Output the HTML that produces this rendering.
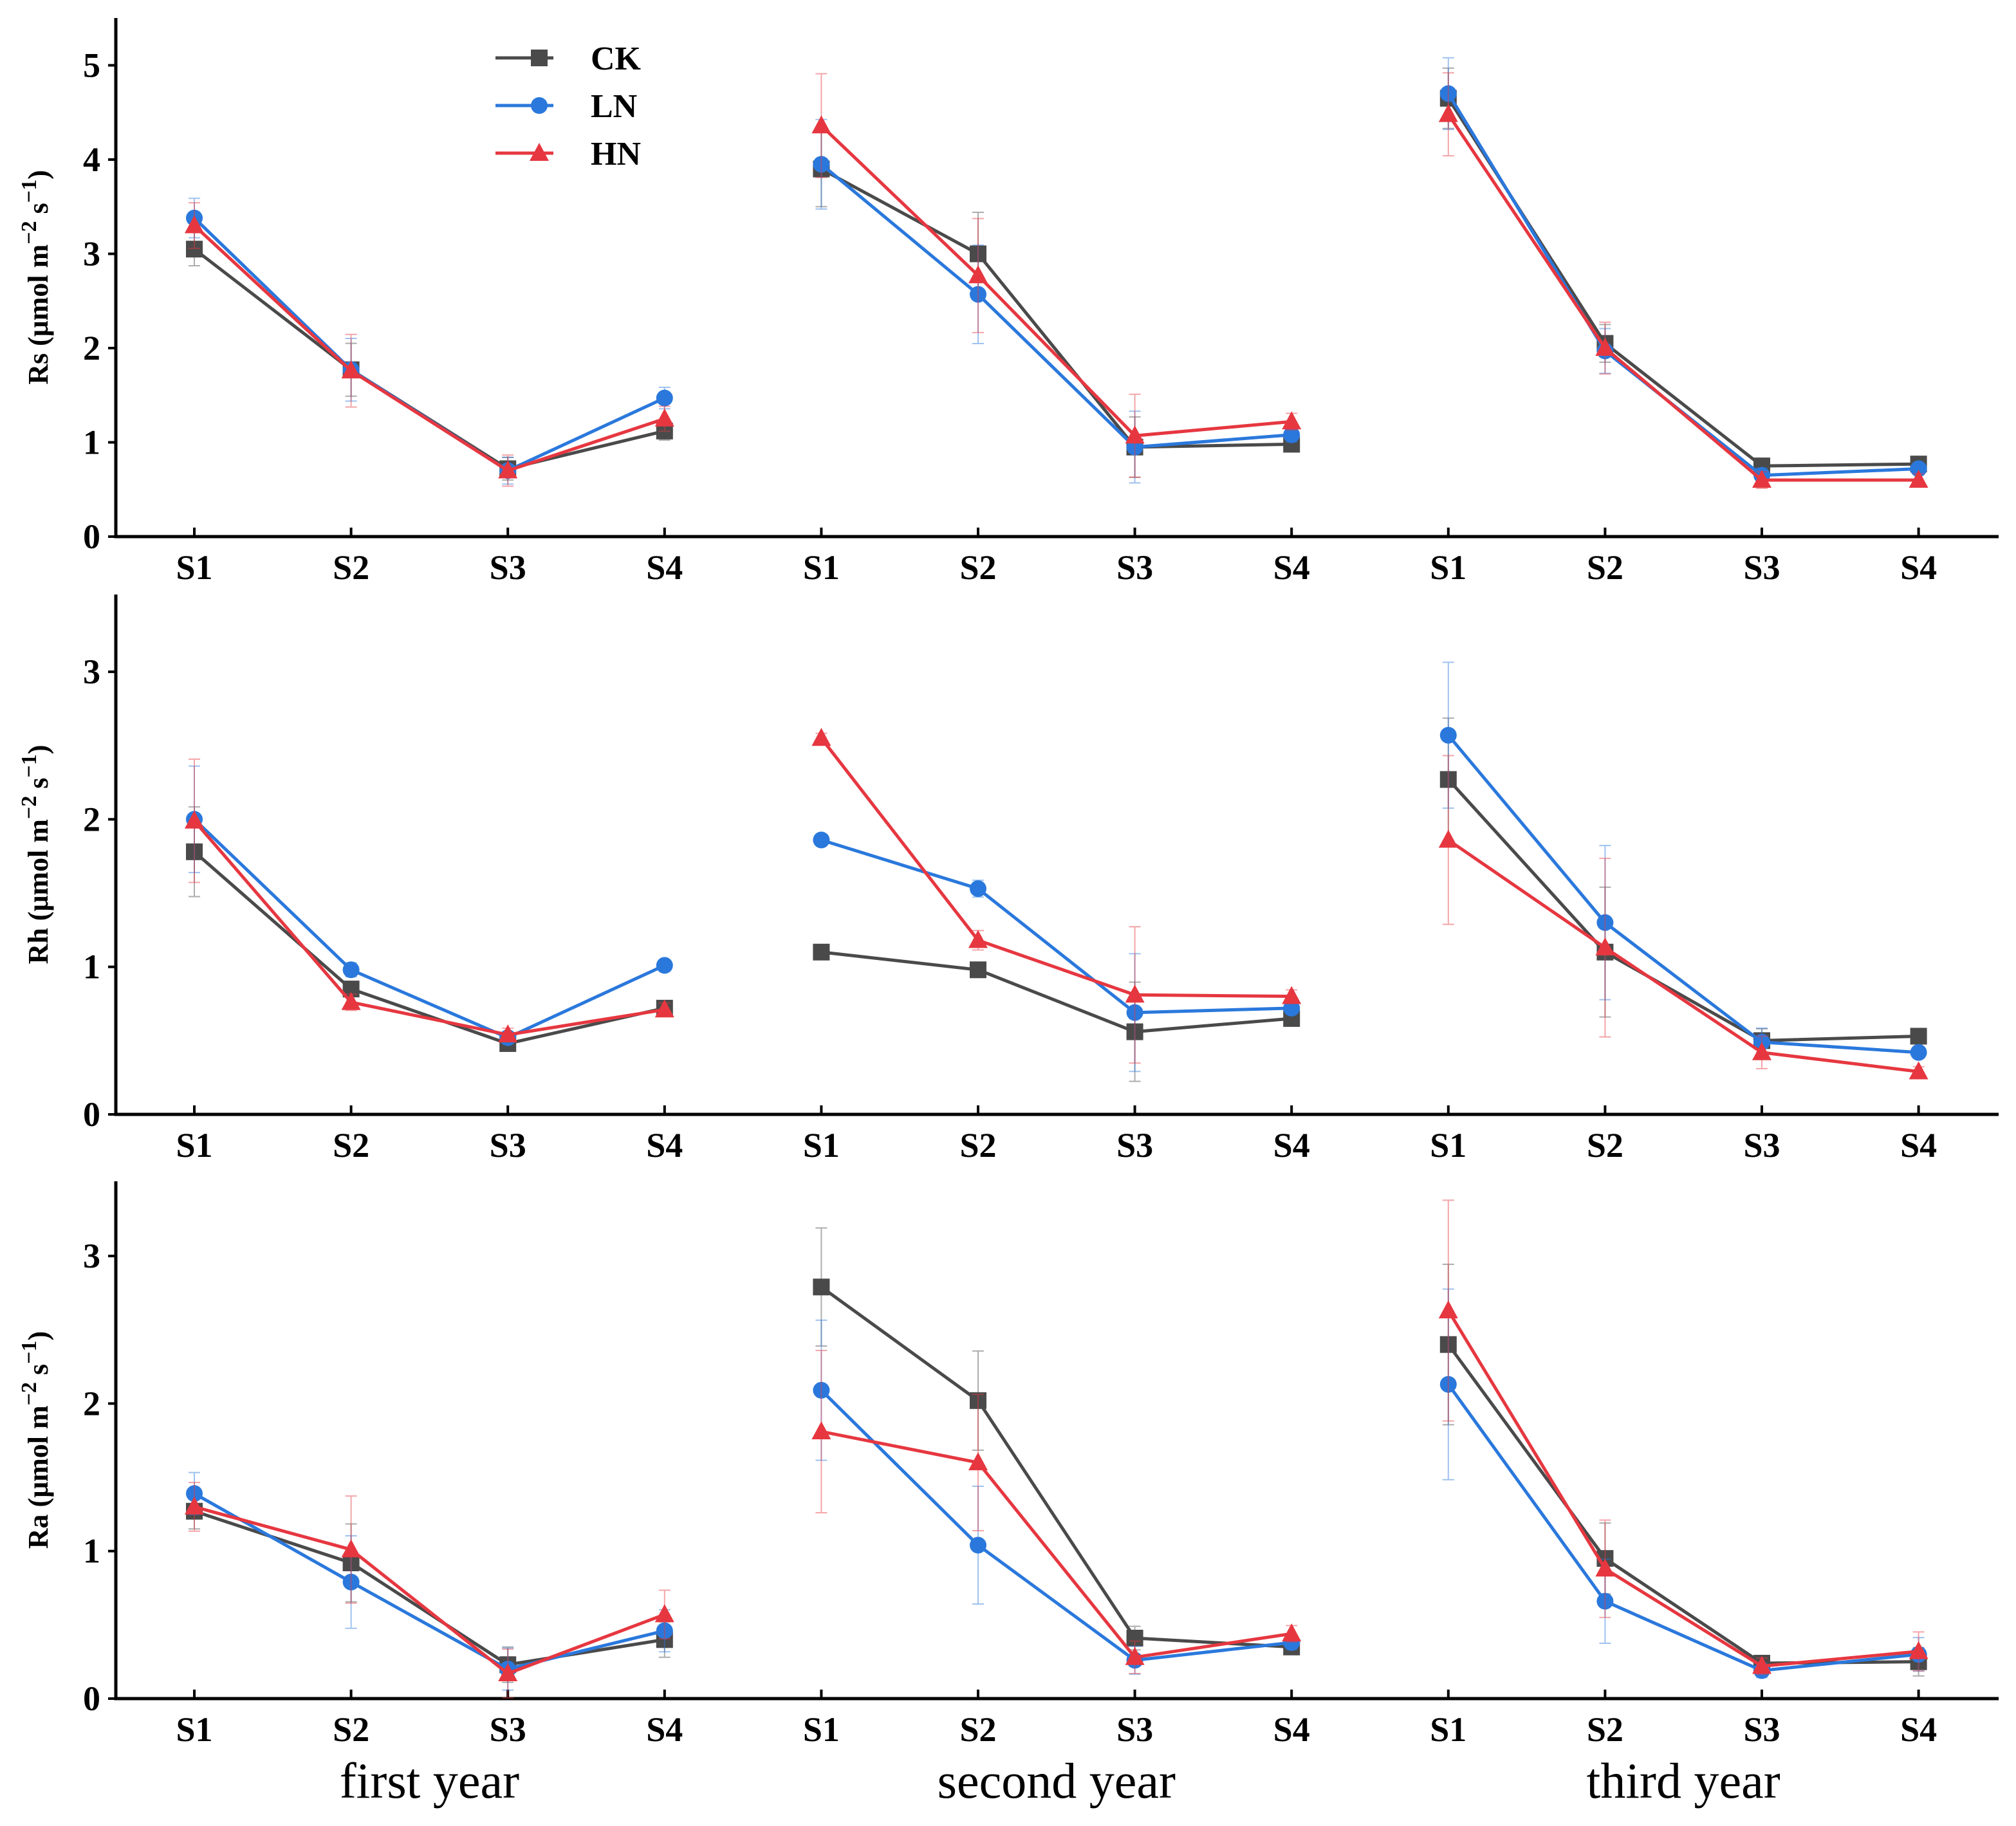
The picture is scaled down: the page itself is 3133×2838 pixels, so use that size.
<!DOCTYPE html>
<html><head><meta charset="utf-8"><style>
html,body{margin:0;padding:0;background:#fff;}
svg{display:block;font-family:"Liberation Serif",serif;}
</style></head><body>
<svg id="chart" width="3133" height="2838" viewBox="0 0 3133 2838" xmlns="http://www.w3.org/2000/svg"></svg>
<script>
const categories = ["S1","S2","S3","S4","S1","S2","S3","S4","S1","S2","S3","S4"];
const yearLabels = ["first year","second year","third year"];
const seriesNames = ["CK","LN","HN"];
const rsCK = [3.05,1.77,0.72,1.12, 3.9,3.0,0.95,0.98, 4.65,2.05,0.75,0.77];
const rsLN = [3.38,1.77,0.70,1.47, 3.95,2.57,0.95,1.08, 4.70,1.97,0.65,0.72];
const rsHN = [3.30,1.76,0.70,1.25, 4.36,2.77,1.07,1.22, 4.48,2.00,0.60,0.60];
const rsErr = [0.22,0.35,0.15,0.12, 0.5,0.55,0.4,0.08, 0.4,0.25,0.08,0.06];
const rhCK = [1.78,0.85,0.48,0.72, 1.10,0.98,0.56,0.65, 2.27,1.10,0.50,0.53];
const rhLN = [2.00,0.98,0.52,1.01, 1.86,1.53,0.69,0.72, 2.57,1.30,0.49,0.42];
const rhHN = [1.99,0.76,0.54,0.71, 2.55,1.18,0.81,0.80, 1.86,1.13,0.42,0.29];
const rhErr = [0.38,0.05,0.04,0.04, 0.03,0.06,0.42,0.04, 0.52,0.55,0.1,0.03];
const raCK = [1.27,0.92,0.23,0.40, 2.79,2.02,0.41,0.35, 2.40,0.95,0.24,0.25];
const raLN = [1.39,0.79,0.20,0.46, 2.09,1.04,0.26,0.38, 2.13,0.66,0.19,0.30];
const raHN = [1.30,1.01,0.17,0.57, 1.81,1.60,0.28,0.44, 2.63,0.88,0.22,0.32];
const raErr = [0.15,0.33,0.15,0.15, 0.5,0.42,0.1,0.05, 0.68,0.3,0.05,0.12];
const rsTicks = [0,1,2,3,4,5];
const rhTicks = [0,1,2,3];
const raTicks = [0,1,2,3];

const NS="http://www.w3.org/2000/svg";
const svg=document.getElementById('chart');
const colors={CK:"#4a4a4a",LN:"#2a78dc",HN:"#e63740"};
function el(tag,attrs,parent){const e=document.createElementNS(NS,tag);for(const k in attrs)e.setAttribute(k,attrs[k]);(parent||svg).appendChild(e);return e;}
const X0=180,X1=3106;
function xPos(i){return 302+i*243.6;}

function marker(g,name,x,y){
  let m;
  if(name==="CK"){m=el('rect',{x:x-13,y:y-13,width:26,height:26,fill:colors.CK},g);}
  else if(name==="LN"){m=el('circle',{cx:x,cy:y,r:13,fill:colors.LN},g);}
  else {m=el('polygon',{points:`${x},${y-16} ${x+15},${y+12} ${x-15},${y+12}`,fill:colors.HN},g);}
  return m;
}

function panel(key,base,top,unit,ticks,data,err,title){
  function yPos(v){return base-v*unit;}
  const g=el('g',{});
  
  
  const ax=el('path',{d:`M${X0},${top} L${X0},${base} L${X1},${base}`,fill:'none',stroke:'#000','stroke-width':5},g);
  
  
  ticks.forEach(t=>{
    el('line',{x1:X0-12,x2:X0,y1:yPos(t),y2:yPos(t),stroke:'#000','stroke-width':4},g);
    const tx=el('text',{x:X0-24,y:yPos(t)+18,'text-anchor':'end','font-size':54,'font-weight':'bold'},g);
    tx.textContent=t;
    
    
  });
  categories.forEach((c,i)=>{
    el('line',{x1:xPos(i),x2:xPos(i),y1:base,y2:base-14,stroke:'#000','stroke-width':4},g);
    const tx=el('text',{x:xPos(i),y:base+66,'text-anchor':'middle','font-size':54,'font-weight':'bold'},g);
    tx.textContent=c;
    
    
  });
  const yt=el('text',{transform:`translate(74,${(base+top)/2}) rotate(-90)`,'text-anchor':'middle','font-size':44,'font-weight':'bold'},g);
  yt.innerHTML=title+' (μmol m<tspan dy="-18" font-size="34">−2</tspan><tspan dy="18"> s</tspan><tspan dy="-18" font-size="34">−1</tspan><tspan dy="18">)</tspan>';
  
  
  seriesNames.forEach((name,si)=>{
    const vals=data[si];
    for(let yr=0;yr<3;yr++){
      for(let k=0;k<4;k++){
        const i=yr*4+k;const e=err[i]*(0.8+0.15*si);
        const eb=el('path',{d:`M${xPos(i)},${yPos(vals[i]+e)} V${yPos(Math.max(0,vals[i]-e))} M${xPos(i)-9},${yPos(vals[i]+e)} h18 M${xPos(i)-9},${yPos(Math.max(0,vals[i]-e))} h18`,stroke:colors[name],'stroke-width':2,opacity:0.45,fill:'none'},g);
        
        
      }
      const pts=[0,1,2,3].map(k=>`${xPos(yr*4+k)},${yPos(vals[yr*4+k])}`).join(' ');
      const pl=el('polyline',{points:pts,fill:'none',stroke:colors[name],'stroke-width':5},g);
      
      
    }
    vals.forEach((v,i)=>{
      const m=marker(g,name,xPos(i),yPos(v));
      
      
    });
  });
}
panel('rs',834,28,146.5,rsTicks,[rsCK,rsLN,rsHN],rsErr,'Rs');
panel('rh',1732,924,229.3,rhTicks,[rhCK,rhLN,rhHN],rhErr,'Rh');
panel('ra',2640,1836,229.3,raTicks,[raCK,raLN,raHN],raErr,'Ra');

// legend
const lg=el('g',{});


seriesNames.forEach((name,i)=>{
  const y=90+i*74;
  el('line',{x1:770,x2:860,y1:y,y2:y,stroke:colors[name],'stroke-width':5},lg);
  const m=marker(lg,name,838,y);
  
  
  const t=el('text',{x:918,y:y+18,'font-size':52,'font-weight':'bold'},lg);
  t.textContent=name;
  
  
});
// year labels
yearLabels.forEach((lbl,i)=>{
  const cx=(xPos(i*4)+xPos(i*4+3))/2;
  const t=el('text',{x:cx,y:2794,'text-anchor':'middle','font-size':78},svg);
  t.textContent=lbl;
  
  
});
</script>
</body></html>
